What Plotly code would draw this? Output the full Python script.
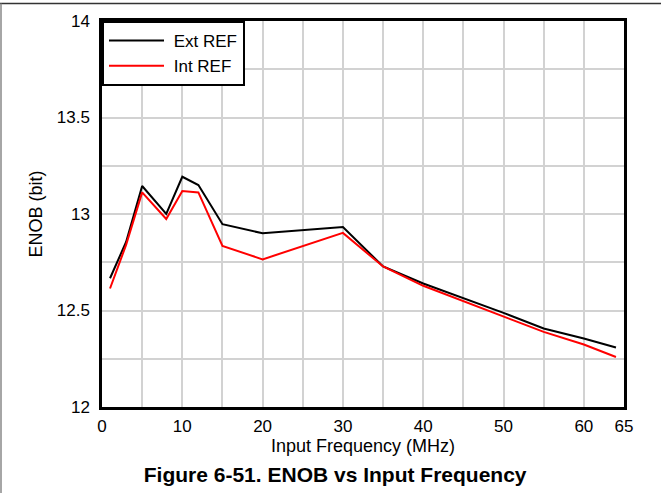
import plotly.graph_objects as go

freq = [1, 3, 5, 8, 10, 12, 15, 20, 30, 35, 40, 45, 50, 55, 60, 64]
ext_ref = [12.667, 12.855, 13.145, 13.0, 13.193, 13.15, 12.947, 12.90, 12.933, 12.728,
           12.64, 12.565, 12.488, 12.407, 12.355, 12.308]
int_ref = [12.614, 12.84, 13.112, 12.974, 13.119, 13.112, 12.835, 12.765, 12.902, 12.728,
           12.628, 12.548, 12.472, 12.389, 12.324, 12.259]

x_tickvals = [0, 5, 10, 15, 20, 25, 30, 35, 40, 45, 50, 55, 60, 65]
x_ticktext = ["0", "", "10", "", "20", "", "30", "", "40", "", "50", "", "60", "65"]
y_tickvals = [12, 12.25, 12.5, 12.75, 13, 13.25, 13.5, 13.75, 14]
y_ticktext = ["12", "", "12.5", "", "13", "", "13.5", "", "14"]

FONT = "Liberation Sans, Arial, sans-serif"
GRID = "#d2d2d2"
NOTICK = "rgba(0,0,0,0)"
NBSP = "\u00a0"

fig = go.Figure()
fig.add_trace(go.Scatter(x=freq, y=ext_ref, mode="lines", name=NBSP + "Ext REF",
                         line=dict(color="#000000", width=2)))
fig.add_trace(go.Scatter(x=freq, y=int_ref, mode="lines", name=NBSP + "Int REF",
                         line=dict(color="#ff0000", width=2)))

fig.update_layout(
    template="none",
    width=661, height=493,
    margin=dict(l=102, r=37, t=21, b=86),
    paper_bgcolor="white", plot_bgcolor="white",
    font=dict(family=FONT, size=17, color="#000000"),
    showlegend=True,
    legend=dict(x=0, y=1, xanchor="left", yanchor="top",
                bgcolor="white", bordercolor="#000000", borderwidth=2,
                font=dict(size=17), itemwidth=55, tracegroupgap=0),
    title=dict(text="<b>Figure 6-51. ENOB vs Input Frequency</b>",
               xref="container", yref="container", x=0.507, y=1 - 475 / 493,
               xanchor="center", yanchor="middle",
               font=dict(family=FONT, size=21, color="#000000")),
)

fig.update_xaxes(range=[0, 65], tickmode="array", tickvals=x_tickvals, ticktext=x_ticktext,
                 showgrid=True, gridcolor=GRID, gridwidth=1.5,
                 showline=True, linecolor="#000000", linewidth=2.5, mirror=True,
                 ticks="outside", ticklen=2, tickcolor=NOTICK, zeroline=False,
                 title=dict(text="Input Frequency (MHz)", standoff=0,
                            font=dict(size=18)))
fig.update_yaxes(range=[12, 14], tickmode="array", tickvals=y_tickvals, ticktext=y_ticktext,
                 showgrid=True, gridcolor=GRID, gridwidth=1.5,
                 showline=True, linecolor="#000000", linewidth=2.5, mirror=True,
                 ticks="outside", ticklen=6, tickcolor=NOTICK, zeroline=False,
                 title=dict(text="ENOB (bit)", standoff=10, font=dict(size=18)))

# outer page frame lines (top and left)
fig.add_shape(type="line", xref="paper", yref="paper",
              x0=(0 - 102) / 522, x1=(661 - 102) / 522,
              y0=(407 - 3.5) / 386, y1=(407 - 3.5) / 386,
              line=dict(color="#333333", width=1.5))
fig.add_shape(type="line", xref="paper", yref="paper",
              x0=(1 - 102) / 522, x1=(1 - 102) / 522,
              y0=(407 - 3.5) / 386, y1=(407 - 493) / 386,
              line=dict(color="#888888", width=1.5))

fig.write_html("out.html", config={"displayModeBar": False},
               post_script="document.body.style.margin='0';")
